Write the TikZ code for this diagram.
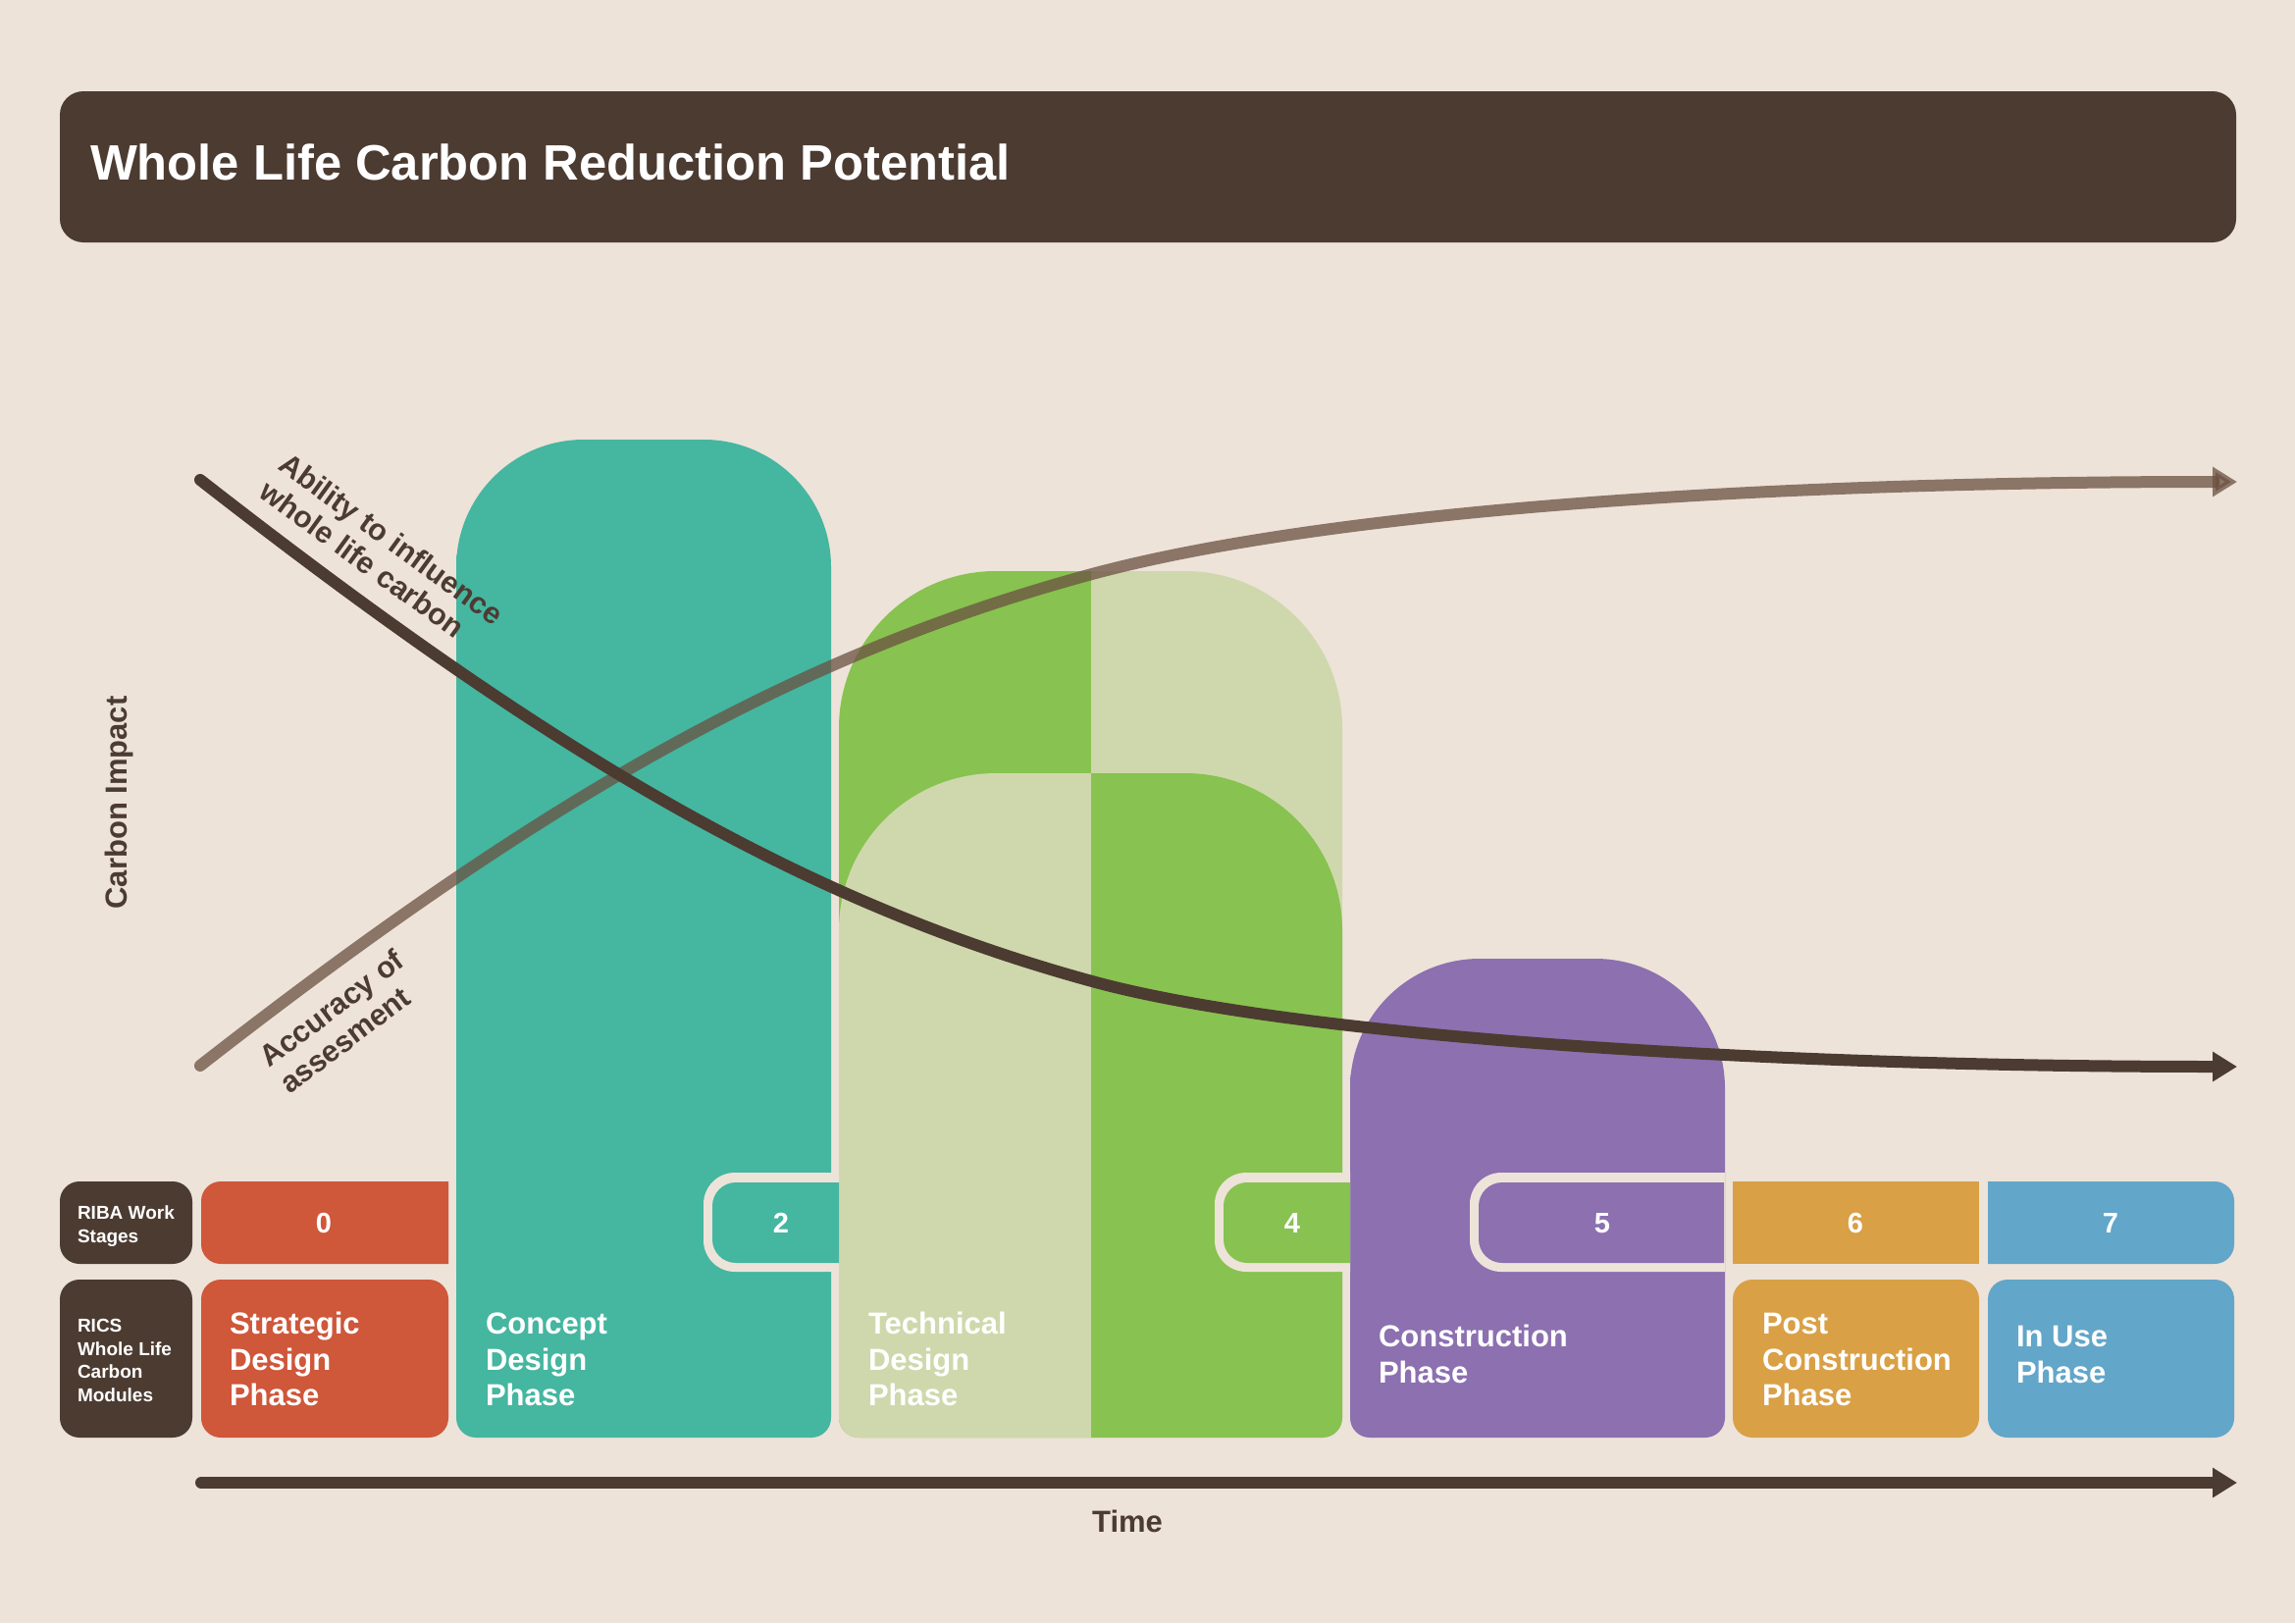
\documentclass[tikz,border=0pt]{standalone}
\usepackage{fontspec}
\setmainfont{Liberation Sans}
\usetikzlibrary{arrows.meta}
\definecolor{bg}{HTML}{EDE3D9}
\definecolor{dark}{HTML}{4C3B31}
\definecolor{cred}{HTML}{CF573A}
\definecolor{cteal}{HTML}{45B6A0}
\definecolor{cgreen}{HTML}{88C250}
\definecolor{clight}{HTML}{CFD8AC}
\definecolor{cpurple}{HTML}{8C70B0}
\definecolor{cgold}{HTML}{D9A046}
\definecolor{cblue}{HTML}{62A6C9}
\definecolor{cacc}{HTML}{6B5142}
\begin{document}
\begin{tikzpicture}[x=1pt,y=-1pt,
  every node/.style={inner sep=0pt, outer sep=0pt},
  small/.style={anchor=base west, text=white, font=\fontsize{19}{23}\selectfont\bfseries},
  phase/.style={anchor=base west, text=white, font=\fontsize{31}{36}\selectfont\bfseries},
  digit/.style={anchor=base, text=white, font=\fontsize{29}{34}\selectfont\bfseries},
  axislabel/.style={text=dark, font=\fontsize{31}{36}\selectfont\bfseries},
  curvelabel/.style={text=dark, align=left, font=\fontsize{30.5}{34}\selectfont\bfseries},
  curve/.style={line width=12pt, line cap=round, -{Triangle[length=25pt,width=29pt]}}]
\fill[bg] (0,0) rectangle (2339,1654);
\useasboundingbox (0,0) rectangle (2339,1654);

% header
\fill[dark, rounded corners=24] (61,93) rectangle (2279,247);
\node[anchor=base west, text=white, font=\fontsize{50.7}{60}\selectfont\bfseries] (title) at (92,183) {Whole Life Carbon Reduction Potential};

% left label boxes
\fill[dark, rounded corners=20] (61,1204) rectangle (196,1288);
\fill[dark, rounded corners=20] (61,1304) rectangle (196,1465);
\node[small] (riba1) at (79,1242) {RIBA Work};
\node[small] (riba2) at (79,1266) {Stages};
\node[small] (rics1) at (79,1357) {RICS};
\node[small] (rics2) at (79,1381) {Whole Life};
\node[small] (rics3) at (79,1404) {Carbon};
\node[small] (rics4) at (79,1428) {Modules};

% stage 0
\fill[cred] (457,1204) [rounded corners=20] -- (205,1204) -- (205,1288) [sharp corners] -- (457,1288) -- cycle;
\fill[cred, rounded corners=20] (205,1304) rectangle (457,1465);

% teal column
\fill[cteal] (465,585) [rounded corners=130] -- (465,448) -- (847,448) [rounded corners=20] -- (847,1465) -- (465,1465) -- cycle;

% technical column
\begin{scope}
\clip (850,500) rectangle (1112,1470);
\fill[cgreen] (855,760) [rounded corners=160] -- (855,582) -- (1368,582) [rounded corners=20] -- (1368,1465) -- (855,1465) -- cycle;
\fill[clight] (855,960) [rounded corners=160] -- (855,788) -- (1368,788) [rounded corners=20] -- (1368,1465) -- (855,1465) -- cycle;
\end{scope}
\begin{scope}
\clip (1112,500) rectangle (1375,1470);
\fill[clight] (855,760) [rounded corners=160] -- (855,582) -- (1368,582) [rounded corners=20] -- (1368,1465) -- (855,1465) -- cycle;
\fill[cgreen] (855,960) [rounded corners=160] -- (855,788) -- (1368,788) [rounded corners=20] -- (1368,1465) -- (855,1465) -- cycle;
\end{scope}

% purple column
\fill[cpurple] (1376,1115) [rounded corners=132] -- (1376,977) -- (1758,977) [rounded corners=20] -- (1758,1465) -- (1376,1465) -- cycle;

% tabs
\fill[bg] (855,1195) [rounded corners=32] -- (717,1195) -- (717,1296) [sharp corners] -- (855,1296) -- cycle;
\fill[cteal] (855,1205) [rounded corners=24] -- (726,1205) -- (726,1287) [sharp corners] -- (855,1287) -- cycle;
\fill[bg] (1376,1195) [rounded corners=32] -- (1238,1195) -- (1238,1296) [sharp corners] -- (1376,1296) -- cycle;
\fill[cgreen] (1376,1205) [rounded corners=24] -- (1247,1205) -- (1247,1287) [sharp corners] -- (1376,1287) -- cycle;
\fill[bg] (1758,1195) [rounded corners=32] -- (1498,1195) -- (1498,1296) [sharp corners] -- (1758,1296) -- cycle;
\fill[cpurple] (1757,1205) [rounded corners=24] -- (1507,1205) -- (1507,1287) [sharp corners] -- (1757,1287) -- cycle;

% stage 6 and 7
\fill[cgold] (1766,1204) rectangle (2017,1288);
\fill[cgold, rounded corners=20] (1766,1304) rectangle (2017,1465);
\fill[cblue] (2026,1204) [rounded corners=20] -- (2277,1204) -- (2277,1288) [sharp corners] -- (2026,1288) -- cycle;
\fill[cblue, rounded corners=20] (2026,1304) rectangle (2277,1465);

% digits
\node[digit] (d0) at (330,1256) {0};
\node[digit] (d2) at (796,1256) {2};
\node[digit] (d4) at (1317,1256) {4};
\node[digit] (d5) at (1633,1256) {5};
\node[digit] (d6) at (1891,1256) {6};
\node[digit] (d7) at (2151,1256) {7};

% phase texts
\node[phase] (s1) at (234,1359) {Strategic};
\node[phase] (s2) at (234,1396) {Design};
\node[phase] (s3) at (234,1432) {Phase};
\node[phase] (c1) at (495,1359) {Concept};
\node[phase] (c2) at (495,1396) {Design};
\node[phase] (c3) at (495,1432) {Phase};
\node[phase] (t1) at (885,1359) {Technical};
\node[phase] (t2) at (885,1396) {Design};
\node[phase] (t3) at (885,1432) {Phase};
\node[phase] (k1) at (1405,1372) {Construction};
\node[phase] (k2) at (1405,1409) {Phase};
\node[phase] (p1) at (1796,1359) {Post};
\node[phase] (p2) at (1796,1396) {Construction};
\node[phase] (p3) at (1796,1432) {Phase};
\node[phase] (u1) at (2055,1372) {In Use};
\node[phase] (u2) at (2055,1409) {Phase};

% axes labels
\node[axislabel, anchor=base, rotate=90] (cimpact) at (129,818) {Carbon Impact};
\node[axislabel, anchor=base] (time) at (1149,1561) {Time};

% time axis
\coordinate (tstart) at (205,1511);
\coordinate (tend) at (2280,1511);
\draw[dark, curve] (tstart) -- (tend);

% accuracy curve
\coordinate (acS) at (204,1086);
\coordinate (acM) at (1113,585);
\coordinate (acE) at (2280,491);
\draw[cacc, opacity=0.75, curve] (acS) .. controls (554,813) and (810,667) .. (acM)
  .. controls (1313,531) and (1700,491) .. (acE);

% ability curve
\coordinate (abS) at (204,489);
\coordinate (abM) at (1113,1000);
\coordinate (abE) at (2280,1087);
\draw[dark, curve] (abS) .. controls (554,762) and (810,917) .. (abM)
  .. controls (1313,1055) and (1780,1087) .. (abE);

% curve labels
\node[curvelabel, rotate=-36] (ability) at (389,563) {Ability to influence\\whole life carbon};
\node[curvelabel, rotate=37] (accuracy) at (348,1041) {Accuracy of\\assesment};
\end{tikzpicture}
\end{document}
